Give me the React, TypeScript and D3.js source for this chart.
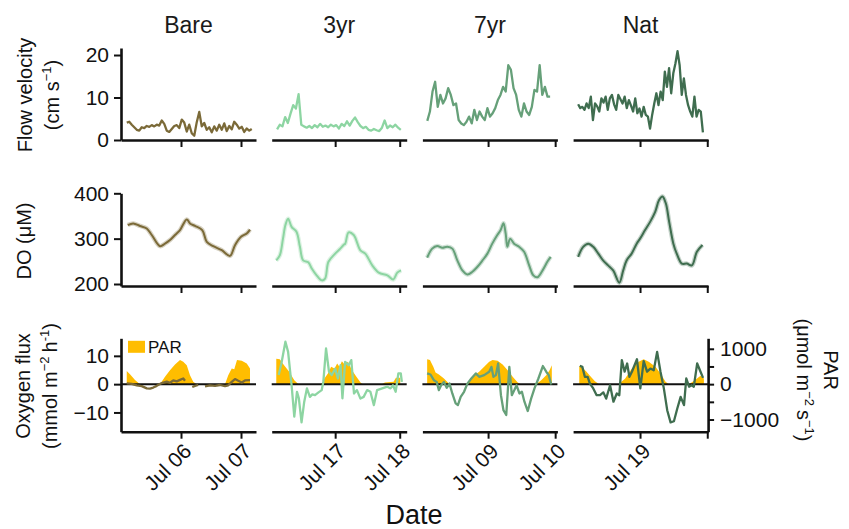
import * as d3 from "d3";
import { useRef, useEffect } from "react";

const sites = ["Bare", "3yr", "7yr", "Nat"];
const siteColors = ["#7b6a38", "#8dd5a2", "#66a079", "#3f6d4f"];
const parColor = "#ffbd00";

// each panel has its own time axis; hours are relative to its first labelled day
const refDays = [new Date(2016, 6, 6), new Date(2016, 6, 17), new Date(2016, 6, 9), new Date(2016, 6, 19)];
const xExtentH = [[-24, 30], [-23.6, 26.6], [-23.5, 24.8], [-23.9, 24.3]];
const tickHours = [0, 24];
const tickLabels = [["Jul 06", "Jul 07"], ["Jul 17", "Jul 18"], ["Jul 09", "Jul 10"], ["Jul 19", ""]];

// flow velocity (cm/s), regular series: start hour + step
const velStartH = [-21.7, -21.6, -21.75, -22.1];
const velStepH = [1, 1, 0.935, 0.755];
const velBare = [4.1, 4.3, 3.6, 3.0, 2.4, 2.2, 3.0, 2.8, 3.3, 3.1, 3.5, 3.2, 3.6, 3.4, 4.6, 3.8, 2.2, 1.9, 2.6, 3.3, 3.5, 2.8,
  4.8, 4.1, 2.0, 3.6, 1.6, 1.0, 4.2, 6.6, 3.2, 4.0,
  2.4, 3.0, 1.8, 3.2, 2.2, 3.6, 2.4, 3.9, 2.1, 3.3, 2.5, 4.3, 3.6, 2.7, 3.1, 1.9, 2.7, 2.2, 2.6];
const vel3yr = [2.5, 3.6, 3.2, 5.4, 4.0, 6.2, 8.2, 7.4, 10.8, 3.6, 3.2, 2.9, 3.3, 2.8, 3.5, 3.0, 3.8, 3.1, 3.4, 3.0, 3.6, 3.2,
  3.5, 2.7, 3.8, 3.3, 4.4, 3.4, 4.5, 5.3, 4.2, 3.3, 2.8, 3.1, 2.4, 2.2, 2.6, 2.3, 2.1, 2.9, 4.6, 2.8, 3.4, 3.0, 3.6, 2.9, 2.4];
const vel7yr = [4.5, 6.7, 11.4, 13.7, 7.8, 10.6, 8.6, 9.8, 12.2, 10.6, 8.2, 8.6, 4.7, 3.9, 3.5, 4.3, 5.5, 3.9, 7.1, 4.7,
  6.7, 5.5, 4.7, 7.5, 5.5, 6.3, 7.5, 9.4, 10.6, 12.5, 11.4, 17.6, 16.5, 12.2, 10.6, 7.1, 5.5, 8.6, 6.7, 5.9,
  7.8, 11.8, 11.4, 17.6, 10.6, 12.5, 10.2, 10.2];
const velNat = [8.4, 7.5, 7.8, 7.1, 8.6, 7.5, 10.2, 4.7, 8.6, 7.9, 6.7, 9.8, 8.8, 10.2, 7.1, 9.8, 10.6, 8.4, 7.1, 10.6,
  9.6, 8.6, 10.2, 7.5, 9.4, 8.1, 6.7, 9.8, 6.3, 7.4, 5.5, 7.8, 5.9, 5.5, 2.7, 5.9, 8.6, 11.0, 8.2, 11.4,
  9.4, 16.1, 12.5, 16.9, 11.0, 15.7, 18.0, 20.9, 17.6, 10.6, 14.5, 10.6, 8.2, 6.7, 5.5, 10.2, 5.5, 7.1, 6.7, 1.8];

// dissolved oxygen (µM): [hour, value]
const doBare = [[-21.3, 330], [-19.1, 333.6], [-16.4, 328], [-13.7, 322.5], [-11.7, 308], [-8.4, 283.4], [-6.4, 289],
  [-4.4, 297], [-2.4, 308], [-0.4, 319], [2.3, 342.5], [3.6, 333.6], [5.6, 328], [8.5, 319], [10.3, 293], [12.9, 283.4],
  [16.3, 274.5], [19.6, 262], [21.6, 285.6], [24, 304], [26.3, 311.4], [27.6, 320]];
const do3yr = [[-21.9, 252], [-20.6, 263], [-19.4, 300], [-18.5, 330], [-17.5, 344], [-16.2, 326], [-14.4, 315],
  [-13.1, 282], [-11.9, 252], [-10, 248], [-8.7, 234], [-6.9, 219], [-5, 208], [-3.75, 212], [-2.5, 249], [0, 267],
  [1.9, 278], [3.1, 286], [3.75, 289], [5, 314], [6.9, 308], [9.4, 274], [11.2, 267], [13.8, 241], [16.2, 225],
  [19.4, 219], [21.6, 210], [23.1, 225], [24.5, 230]];
const do7yr = [[-21.8, 258], [-20, 278], [-18.2, 284], [-16.4, 280], [-14.6, 282], [-12.8, 278], [-11, 252], [-9.2, 230],
  [-7.4, 221], [-5.6, 227], [-3.8, 238], [-2, 252], [-0.25, 267], [1.5, 289], [3.3, 308], [4.5, 319], [5.5, 334],
  [6.3, 311], [6.9, 282], [7.9, 300], [9.3, 289], [11.1, 282], [12.9, 271], [14.7, 241], [16.2, 219], [17.7, 215],
  [19.5, 230], [21.3, 250], [22.4, 260]];
const doNat = [[-22.1, 260], [-20.3, 282], [-18.5, 289], [-16.7, 282], [-14.9, 267], [-13.2, 252], [-11.4, 241],
  [-9.6, 230], [-7.4, 203], [-6, 230], [-4.8, 252], [-3, 267], [-1.2, 289], [0, 300], [1.8, 319], [3.6, 337],
  [5.4, 359], [6.8, 385], [8, 393], [9.2, 378], [10.4, 337], [11.9, 289], [13.1, 267], [14.9, 245], [16.7, 245],
  [18.5, 241], [20.3, 271], [22.3, 286]];

// oxygen flux (mmol m-2 h-1): [hour, value], null = no data
const fluxBare = [[-21.7, 0.3], [-19.7, 0.1], [-17.7, -0.4], [-15.7, -0.7], [-13.7, -1.5], [-12.4, -1.6], [-11.1, -1.2],
  [-9.7, -0.6], [-7.7, 0.4], [-5.7, 0.9], [-4.4, 0.5], [-3.1, 1.3], [-1.7, 1.0], [-0.4, 1.5], [0.9, 2.0], [1.6, 1.2],
  [3, null], [4.5, -1.0], [5.6, -0.6], [6.9, -0.3], [8, null], [9.6, -0.8], [11.6, -0.4], [13.6, -0.6], [15.6, -0.3],
  [17.6, -0.7], [18.9, -0.4], [20.3, 0.8], [21.6, 1.8], [22.9, 1.2], [24.3, 0.6], [25.6, 1.3], [27.6, 1.4]];
const flux3yr = [[-21, 3.2], [-20, 7.3], [-18.5, 15], [-17.5, 11.4], [-16.2, -0.4], [-15.2, -11.5], [-14.2, -2.7],
  [-13.5, -5], [-12.5, -13.5], [-11.5, -6.2], [-10.5, -1.5], [-9.4, -4.5], [-8.5, -3.6], [-7.5, -3.9], [-6.2, -2.9],
  [-5, -2.1], [-4.4, 0.8], [-3.4, 12.6], [-2.3, 4.4], [-1.3, 3.2], [0, 5.5], [1, 2], [2, 6.7], [2.7, -5], [3.7, 7.9],
  [5, 6.7], [6, 8.5], [7, -3.3], [8.1, -2.1], [9.4, -5.1], [10.6, -4.5], [11.9, -2.1], [13.1, -2.7], [14.4, -7.4],
  [15.6, -2.1], [17.5, -1.5], [19.4, -0.9], [20.6, -1.5], [21.5, -0.4], [22.5, -2.7], [23.5, 3.8], [24.4, 3.8], [24.8, 0.8]];
const flux7yr = [[-21.8, 3.8], [-20.6, 3.4], [-19.4, 1.4], [-18.4, 0.8], [-17.6, -2.1], [-16.8, -0.4], [-15.8, 0.8],
  [-14.8, -1.3], [-13.8, 0.2], [-12.8, -3.3], [-11.6, -6.8], [-10.8, -7.4], [-9.8, -4.5], [-8.6, -2.7], [-7.4, 0.2],
  [-6, 2], [-4.4, 3.8], [-3.2, 2.6], [-1.4, 3.2], [0.4, 4.4], [1.2, 6.1], [1.9, 2.6], [2.8, 3.2], [3.6, 7.3],
  [4.6, -3.9], [5.5, -9.2], [6.5, -10.9], [7.6, 6.1], [8.5, -3.9], [9.4, -2.1], [10.2, -0.4], [11.2, -3.3],
  [12.1, -2.7], [13, -6.2], [14.2, -9.5], [15.4, -5.1], [16.6, -1.5], [18, 2], [19.6, 6.4], [20.8, 4.4],
  [21.7, 3.2], [22.6, -0.1]];
const fluxNat = [[-21.5, 6.5], [-20.6, 6.1], [-19.7, 2.6], [-18.7, 2.6], [-17.9, 0.2], [-16.7, -1.5], [-15.5, -3.9],
  [-14.3, -3.9], [-13.1, -2.9], [-12.1, -5.1], [-10.7, -0.4], [-9.5, -6.2], [-8.3, -3.3], [-7.4, -3.9], [-6.5, 8.5],
  [-5.5, 4.4], [-4.6, 7.3], [-3.8, 2.6], [-2.9, 4.4], [-1.1, 8.8], [0.1, -1.5], [1.3, 8.1], [2.5, 4.4], [3.7, 5.5],
  [4.9, 4.9], [6.1, 11.4], [7.3, 4.4], [8.5, -1.5], [9.7, -9.2], [10.9, -13.5], [12.1, -13.1], [13.3, -8.6],
  [14.5, -4.5], [15.7, -7.4], [16.5, 2], [17.5, -0.9], [18.4, -0.4], [19.2, -0.9], [20.4, 7.3], [21.6, 4.4], [22.5, 2.2]];

// PAR (µmol m-2 s-1): [hour, value]
const parBare = [[-21.7, 370], [-20.4, 280], [-18.4, 120], [-16.4, 0], [-8.4, 0], [-6.4, 210], [-4.4, 395], [-2.4, 555],
  [-0.4, 680], [0.9, 630], [2.3, 535], [3.6, 255], [4.9, 65], [6.3, 0], [17.6, 0], [18.9, 255], [20.3, 440],
  [21.3, 420], [22.4, 680], [24.3, 660], [26.3, 585], [27.6, 440]];
const par3yr = [[-21.9, 720], [-20.6, 705], [-19, 535], [-17.1, 350], [-15.2, 110], [-13.6, 0], [-5.2, 0], [-4, 160],
  [-2.7, 300], [-1.5, 490], [-0.25, 440], [0.75, 585], [1.6, 490], [2.5, 650], [3.5, 555], [4.75, 630], [6.25, 395],
  [7.9, 210], [9.5, 40], [10.4, 0], [17.3, 0], [18.5, 45], [21.7, 65], [22.6, 180], [24.2, 180]];
const par7yr = [[-21.8, 705], [-20.8, 680], [-19.6, 490], [-18.8, 330], [-17.6, 270], [-15.8, 160], [-14, 20],
  [-13.4, 0], [-7.4, 0], [-5.6, 210], [-3.2, 350], [-1.4, 490], [0.4, 630], [1.6, 680], [3.4, 660], [5.2, 555],
  [7, 395], [8.8, 210], [10.6, 45], [11.8, 0], [17.2, 0], [19, 110], [20.8, 255], [22, 395], [22.8, 535]];
const parNat = [[-21.7, 510], [-20.3, 440], [-19.1, 350], [-17.9, 235], [-16.1, 85], [-14.6, 0], [-7.7, 0], [-5.3, 160],
  [-2.9, 440], [-0.5, 630], [1.3, 705], [3.1, 630], [5.5, 490], [7.3, 300], [9.1, 65], [10.3, 0], [17.5, 0],
  [19.9, 130], [21.6, 235], [22.8, 160]];

const velSeries = [velBare, vel3yr, vel7yr, velNat];
const doSeries = [doBare, do3yr, do7yr, doNat];
const fluxSeries = [fluxBare, flux3yr, flux7yr, fluxNat];
const parSeries = [parBare, par3yr, par7yr, parNat];

const W = 849, H = 529;
const font = "'Liberation Sans', Arial, Helvetica, sans-serif";
const ink = "#111";

const App = () => {
  const ref = useRef<SVGSVGElement>(null);

  useEffect(() => {
    const svg = d3.select(ref.current);
    svg.selectAll("*").remove();

    const panelW = 135;
    const left0 = 121, gap = 150.7;
    const rows = { vel: [140, 48], dox: [286, 193.3], flux: [431.7, 338.3] };

    const yVel = d3.scaleLinear().domain([0, 21.65]).range(rows.vel);
    const yDO = d3.scaleLinear().domain([195.6, 400]).range(rows.dox);
    const yFlux = d3.scaleLinear().domain([-16.8, 16.2]).range(rows.flux);
    const yPar = d3.scaleLinear().domain([-16.8 * 80, 16.2 * 80]).range(rows.flux);

    const at = (ref: Date, h: number) => new Date(ref.getTime() + h * 36e5);

    const styleAxis = (g: any) => {
      g.attr("font-size", 21).attr("font-family", font);
      g.select(".domain").attr("stroke", ink).attr("stroke-width", 2.6);
      g.selectAll(".tick line").attr("stroke", ink).attr("stroke-width", 2);
      g.selectAll(".tick text").attr("fill", ink);
    };

    sites.forEach((site, i) => {
      const left = left0 + i * gap;
      const refDay = refDays[i];
      const color = siteColors[i];
      const x = d3.scaleTime()
        .domain([at(refDay, xExtentH[i][0]), at(refDay, xExtentH[i][1])])
        .range([left, left + panelW]);
      const ticks = tickHours.map(h => at(refDay, h));

      // strip title
      svg.append("text")
        .attr("x", left + panelW / 2).attr("y", 33)
        .attr("text-anchor", "middle")
        .attr("font-family", font).attr("font-size", 23).attr("fill", "#1a1a1a")
        .text(site);

      // x axes for the three rows
      [rows.vel[0], rows.dox[0], rows.flux[0]].forEach(yy => {
        svg.append("g")
          .attr("transform", `translate(0,${yy})`)
          .call(d3.axisBottom(x).tickValues(ticks).tickSize(7).tickSizeOuter(0).tickFormat(() => ""))
          .call(styleAxis);
      });

      // rotated date labels
      ticks.forEach((t, k) => {
        if (!tickLabels[i][k]) return;
        svg.append("text")
          .attr("transform", `translate(${x(t) + 1},${rows.flux[0] + 10}) rotate(-45)`)
          .attr("text-anchor", "end").attr("dy", "0.72em")
          .attr("font-family", font).attr("font-size", 21).attr("fill", ink)
          .text(tickLabels[i][k]);
      });

      // flow velocity
      const vel = velSeries[i].map((v, k) => [velStartH[i] + k * velStepH[i], v]);
      svg.append("path")
        .datum(vel)
        .attr("fill", "none").attr("stroke", color).attr("stroke-width", 2.3).attr("stroke-linejoin", "round")
        .attr("d", d3.line<number[]>().x(d => x(at(refDay, d[0]))).y(d => yVel(d[1])));

      // dissolved oxygen
      const doLine = d3.line<number[]>().curve(d3.curveCatmullRom)
        .x(d => x(at(refDay, d[0]))).y(d => yDO(d[1]));
      svg.append("path").datum(doSeries[i])
        .attr("fill", "none").attr("stroke", color).attr("stroke-width", 4.5).attr("stroke-opacity", 0.3)
        .attr("d", doLine);
      svg.append("path").datum(doSeries[i])
        .attr("fill", "none").attr("stroke", color).attr("stroke-width", 2).attr("d", doLine);

      // PAR area
      svg.append("path").datum(parSeries[i])
        .attr("fill", parColor)
        .attr("d", d3.area<number[]>()
          .x(d => x(at(refDay, d[0])))
          .y0(yPar(0)).y1(d => yPar(d[1])));

      // zero line
      svg.append("line")
        .attr("x1", left).attr("x2", left + panelW)
        .attr("y1", yFlux(0)).attr("y2", yFlux(0))
        .attr("stroke", ink).attr("stroke-width", 2);

      // oxygen flux
      svg.append("path").datum(fluxSeries[i])
        .attr("fill", "none").attr("stroke", color).attr("stroke-width", 2.3).attr("stroke-linejoin", "round")
        .attr("d", d3.line<any>()
          .defined(d => d[1] != null)
          .x(d => x(at(refDay, d[0]))).y(d => yFlux(d[1])));

      if (i === 0) {
        svg.append("g").attr("transform", `translate(${left},0)`)
          .call(d3.axisLeft(yVel).tickValues([0, 10, 20]).tickSize(7).tickSizeOuter(0).tickPadding(5))
          .call(styleAxis);
        svg.append("g").attr("transform", `translate(${left},0)`)
          .call(d3.axisLeft(yDO).tickValues([200, 300, 400]).tickSize(7).tickSizeOuter(0).tickPadding(5))
          .call(styleAxis);
        svg.append("g").attr("transform", `translate(${left},0)`)
          .call(d3.axisLeft(yFlux).tickValues([-10, 0, 10]).tickSize(7).tickSizeOuter(0).tickPadding(5)
            .tickFormat(d3.format("d")))
          .call(styleAxis);

        // legend
        svg.append("rect")
          .attr("x", left + 7).attr("y", rows.flux[1] + 2.5)
          .attr("width", 17).attr("height", 12).attr("fill", parColor);
        svg.append("text")
          .attr("x", left + 27).attr("y", rows.flux[1] + 14.5)
          .attr("font-family", font).attr("font-size", 17).attr("fill", ink)
          .text("PAR");
      }

      if (i === sites.length - 1) {
        const fmt = d3.format("d");
        svg.append("g").attr("transform", `translate(${left + panelW},0)`)
          .call(d3.axisRight(yPar).tickValues([-1000, -500, 0, 500, 1000]).tickSize(6).tickSizeOuter(0).tickPadding(6)
            .tickFormat(d => (+d % 1000 === 0 ? fmt(+d) : "")))
          .call(styleAxis);
      }
    });

    // axis titles
    const title = (tx: number, ty: number, rot: number, size = 20) =>
      svg.append("text")
        .attr("transform", `translate(${tx},${ty}) rotate(${rot})`)
        .attr("text-anchor", "middle")
        .attr("font-family", font).attr("font-size", size).attr("fill", ink);
    const sup = (t: any, s: string) => {
      t.append("tspan").attr("dy", -8).attr("font-size", 13).text(s);
      t.append("tspan").attr("dy", 8).text("\u2009");
    };

    title(32, 95, -90).text("Flow velocity");
    const cm = title(59, 95, -90);
    cm.append("tspan").text("(cm s");
    cm.append("tspan").attr("dy", -8).attr("font-size", 13).text("\u22121");
    cm.append("tspan").attr("dy", 8).text(")");

    title(31, 241, -90).text("DO (\u03bcM)");

    title(30, 386, -90).text("Oxygen flux");
    const mm = title(57, 386, -90);
    mm.append("tspan").text("(mmol m");
    sup(mm, "\u22122");
    mm.append("tspan").text("h");
    mm.append("tspan").attr("dy", -8).attr("font-size", 13).text("-1");
    mm.append("tspan").attr("dy", 8).text(")");

    title(824, 370, 90).text("PAR");
    const um = title(797, 380, 90);
    um.append("tspan").text("(\u03bcmol m");
    sup(um, "\u22122");
    um.append("tspan").text("s");
    um.append("tspan").attr("dy", -8).attr("font-size", 13).text("\u22121");
    um.append("tspan").attr("dy", 8).text(")");

    title(414, 524, 0, 27).text("Date");
  }, []);

  return (
    <svg ref={ref} width={W} height={H}
      style={{ position: "absolute", left: 0, top: 0, background: "#fff" }} />
  );
};

export default App;
